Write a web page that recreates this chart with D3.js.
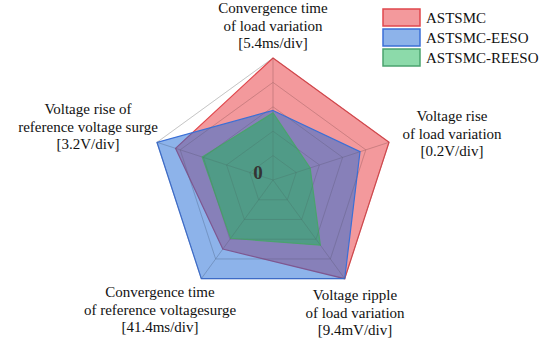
<!DOCTYPE html>
<html>
<head>
<meta charset="utf-8">
<script src="https://cdn.jsdelivr.net/npm/d3@7"></script>
<style>
  html, body { margin: 0; padding: 0; background: #fff; }
  svg { display: block; }
</style>
</head>
<body>
<div id="chart"></div>
<script>
// axis labels, clockwise from the top
const axes = [
  ["Convergence time", "of load variation", "[5.4ms/div]"],
  ["Voltage rise", "of load variation", "[0.2V/div]"],
  ["Voltage ripple", "of load variation", "[9.4mV/div]"],
  ["Convergence time", "of reference voltagesurge", "[41.4ms/div]"],
  ["Voltage rise of", "reference voltage surge", "[3.2V/div]"]
]
const seriesNames = ["ASTSMC", "ASTSMC-EESO", "ASTSMC-REESO"]
// values in divisions (0..5)
const astsmc = [5, 5, 5, 3.5, 4.2]
const astsmcEeso = [2.85, 3.75, 5, 5, 5]
const astsmcReeso = [2.75, 1.6, 3.3, 2.95, 3.05]
const divisions = [1, 2, 3, 4, 5]

const width = 550, height = 341
const cx = 273, cy = 180
const fills = ["rgb(232,52,58)", "rgb(28,104,214)", "rgb(25,182,85)"]
const strokes = ["#e0474c", "#3b6fd6", "#4aa36e"]

const svg = d3.select("#chart").append("svg")
  .attr("width", width)
  .attr("height", height)
  .attr("font-family", "'Liberation Serif', 'Times New Roman', serif")

const r = d3.scaleLinear().domain([0, 5]).range([0, 122])
const angle = i => -Math.PI / 2 + i * 2 * Math.PI / axes.length
const pt = (v, i) => [cx + r(v) * Math.cos(angle(i)), cy + r(v) * Math.sin(angle(i))]

const line = d3.line().curve(d3.curveLinearClosed)

// grid
const grid = svg.append("g")
  .attr("fill", "none")
  .attr("stroke", "#cfcfcf")
  .attr("stroke-width", 0.8)

grid.selectAll("path.ring")
  .data(divisions)
  .join("path")
    .attr("class", "ring")
    .attr("d", d => line(axes.map((_, i) => pt(d, i))))

grid.selectAll("line")
  .data(axes)
  .join("line")
    .attr("x1", cx)
    .attr("y1", cy)
    .attr("x2", (d, i) => pt(5, i)[0])
    .attr("y2", (d, i) => pt(5, i)[1])

// series polygons
const series = [astsmc, astsmcEeso, astsmcReeso]
svg.append("g")
  .selectAll("path")
  .data(series)
  .join("path")
    .attr("d", d => line(d.map((v, i) => pt(v, i))))
    .attr("fill", (d, i) => fills[i])
    .attr("fill-opacity", 0.5)
    .attr("stroke", (d, i) => strokes[i])
    .attr("stroke-width", 1.2)
    .attr("stroke-linejoin", "miter")

// grid lines drawn faintly over the fills as well
const gridTop = svg.append("g")
  .attr("fill", "none")
  .attr("stroke", "#555")
  .attr("stroke-opacity", 0.18)
  .attr("stroke-width", 0.8)

gridTop.selectAll("path")
  .data(divisions)
  .join("path")
    .attr("d", d => line(axes.map((_, i) => pt(d, i))))

gridTop.selectAll("line")
  .data(axes)
  .join("line")
    .attr("x1", cx)
    .attr("y1", cy)
    .attr("x2", (d, i) => pt(5, i)[0])
    .attr("y2", (d, i) => pt(5, i)[1])

// centre label
svg.append("text")
  .attr("x", cx - 15)
  .attr("y", cy - 1)
  .attr("text-anchor", "middle")
  .attr("font-size", 19)
  .attr("font-weight", "bold")
  .attr("fill", "#333")
  .text("0")

// axis labels
const labelPos = [
  [273, 13],
  [452, 121],
  [355, 300],
  [160, 297],
  [88, 114]
]
svg.append("g")
  .attr("font-size", 15)
  .attr("fill", "#111")
  .attr("text-anchor", "middle")
  .selectAll("text")
  .data(axes)
  .join("text")
    .attr("x", (d, i) => labelPos[i][0])
    .attr("y", (d, i) => labelPos[i][1])
    .call(t => t.selectAll("tspan")
      .data(d => d)
      .join("tspan")
        .attr("x", function() { return this.parentNode.getAttribute("x") })
        .attr("dy", (d, j) => j ? 17.5 : 0)
        .text(d => d))

// legend
const legend = svg.append("g")
  .attr("transform", "translate(383,9)")
  .selectAll("g")
  .data(seriesNames)
  .join("g")
    .attr("transform", (d, i) => `translate(0,${i * 20})`)

legend.append("rect")
  .attr("width", 37)
  .attr("height", 17)
  .attr("fill", (d, i) => fills[i])
  .attr("fill-opacity", 0.5)
  .attr("stroke", (d, i) => strokes[i])
  .attr("stroke-width", 1.5)

legend.append("text")
  .attr("x", 43)
  .attr("y", 14)
  .attr("font-size", 15)
  .attr("fill", "#111")
  .text(d => d)
</script>
</body>
</html>
